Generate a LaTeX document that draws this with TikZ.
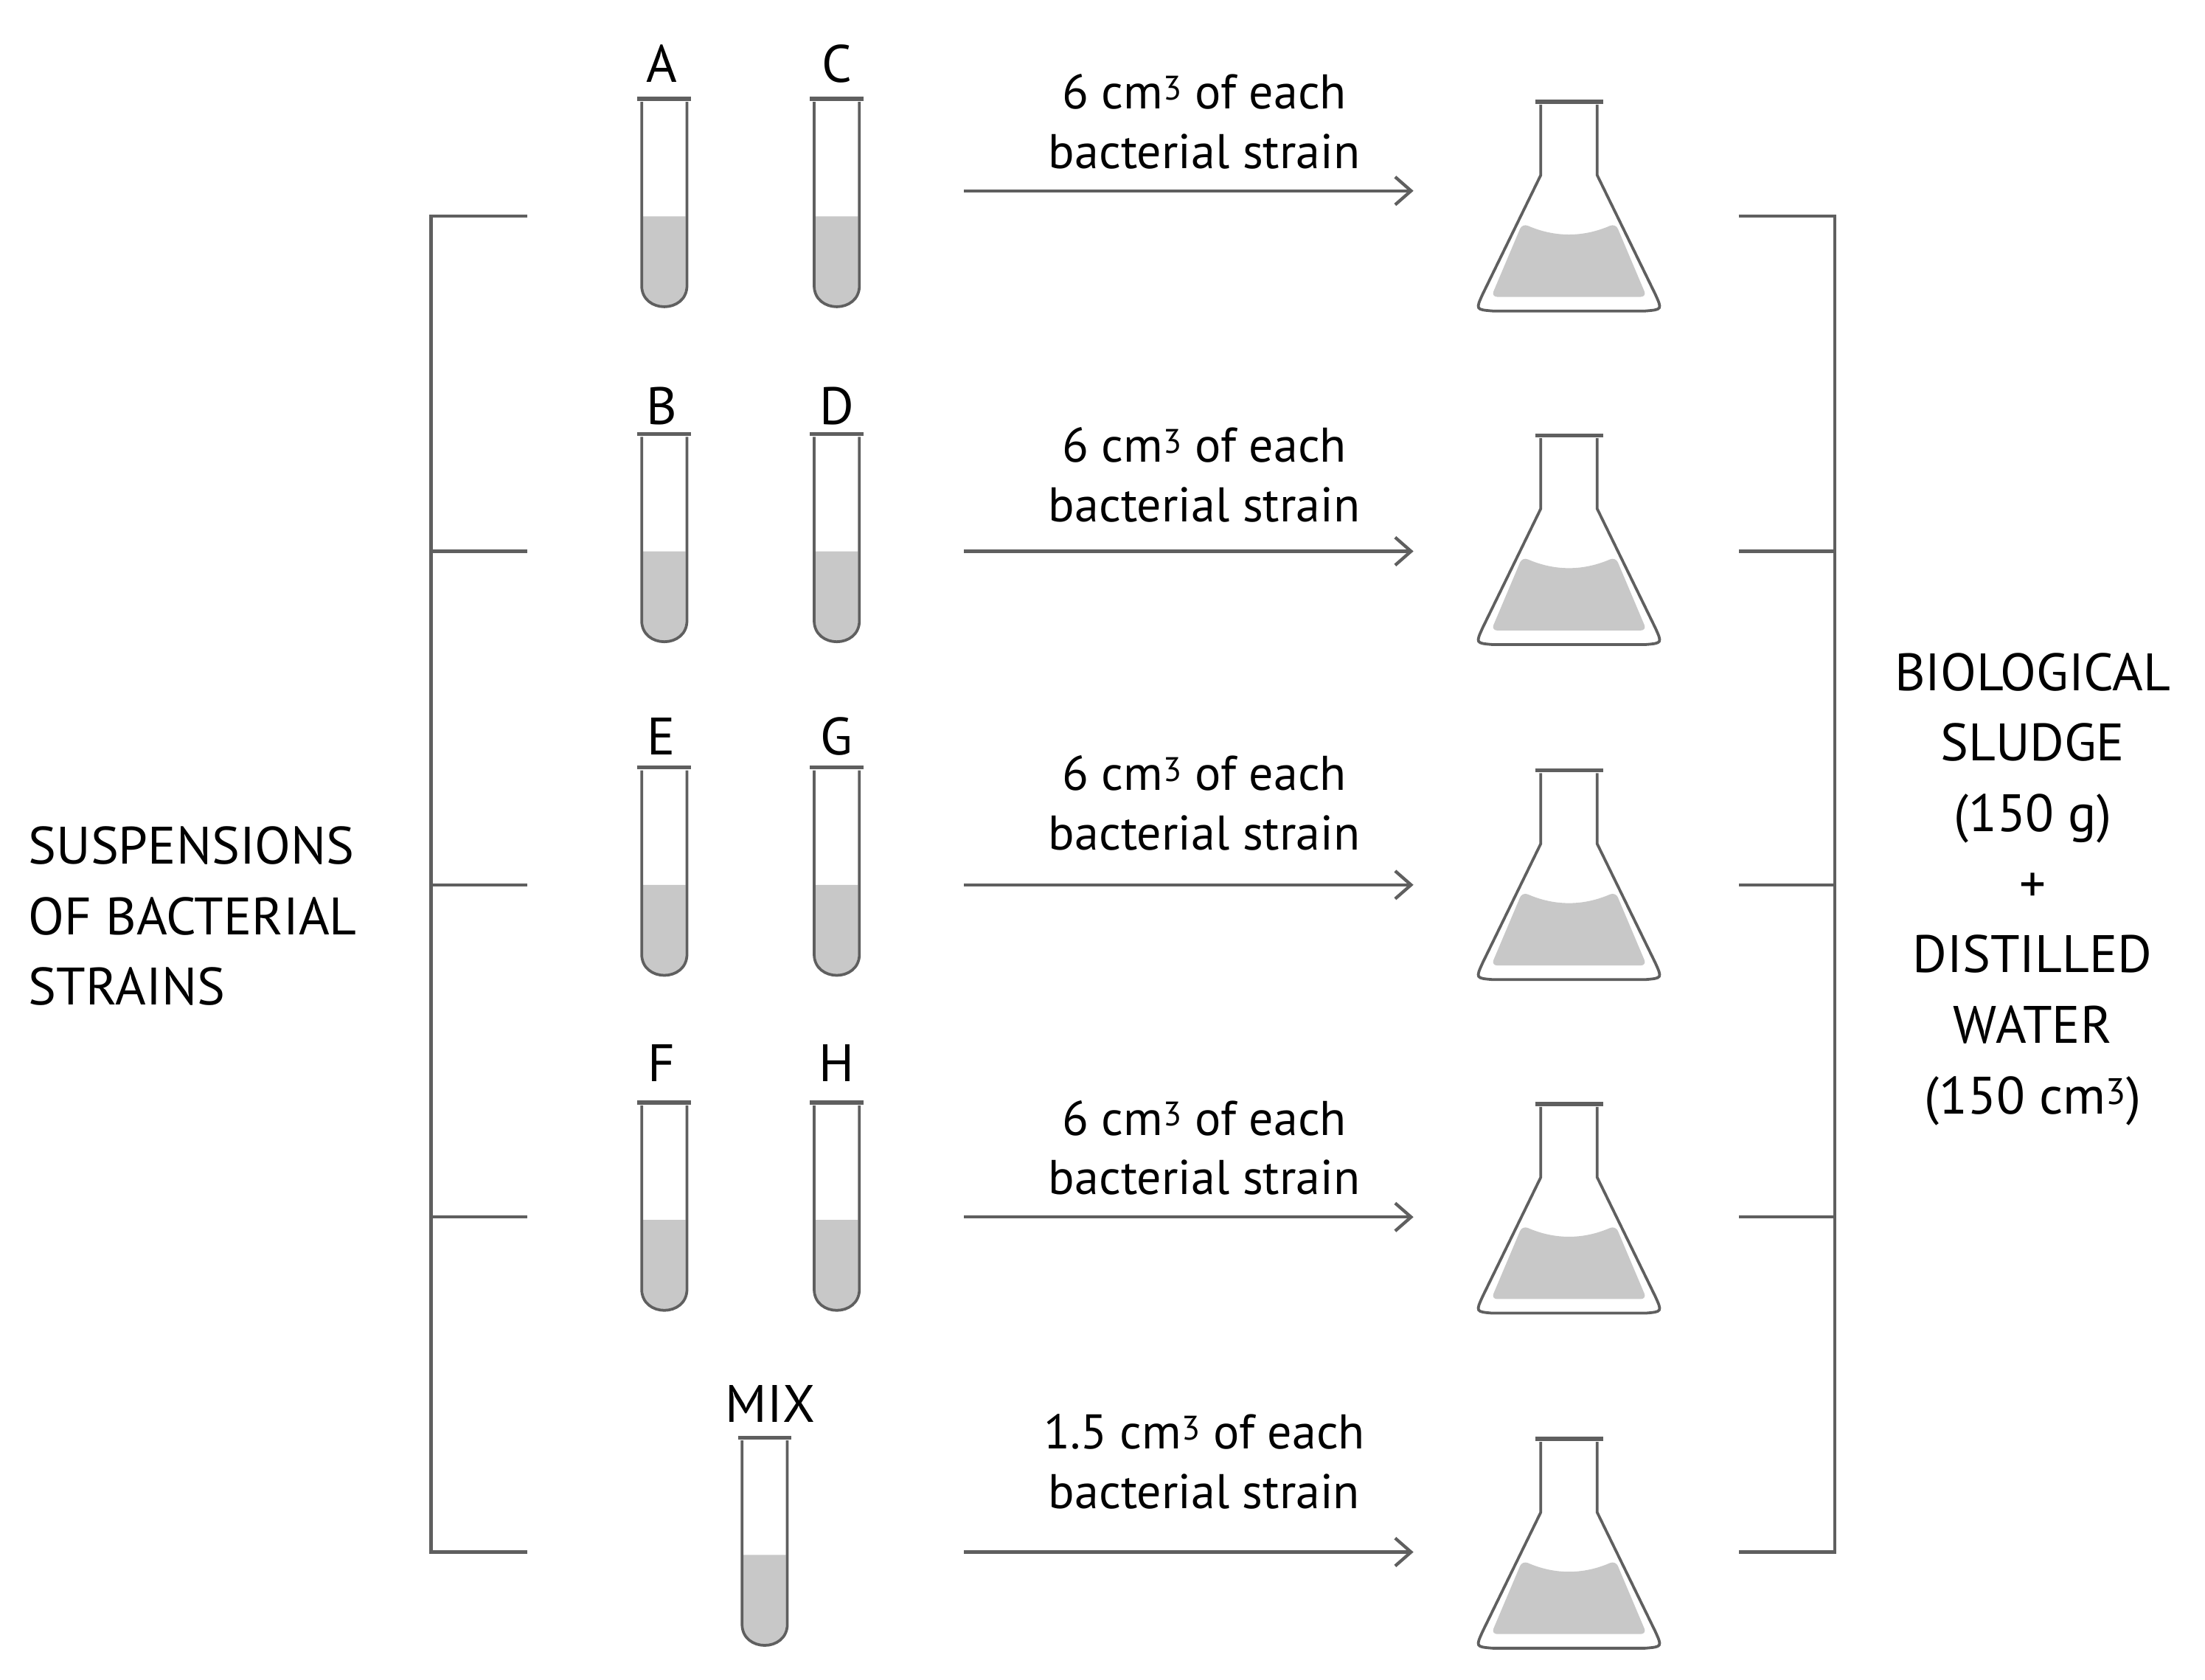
\documentclass[tikz,border=0pt]{standalone}
\usepackage{fontspec}
\setmainfont{PT Sans}
\usetikzlibrary{arrows.meta}
\definecolor{ln}{RGB}{95,95,95}
\definecolor{liq}{RGB}{200,200,200}
\begin{document}
\begin{tikzpicture}[x=0.05cm,y=-0.05cm,
  txt/.style={font=\fontsize{53}{71}\selectfont,text=black,inner sep=0pt,align=center},
  atxt/.style={font=\fontsize{49}{60}\selectfont,text=black,inner sep=0pt,align=center},
  br/.style={draw=ln,line width=3.2},
  arr/.style={draw=ln,line width=3.2,-{Straight Barb[length=16,width=28,line width=3.2]}},
  tube/.pic={
    \fill[liq] (-15,83) -- (-15,132) .. controls (-15,151) and (15,151) .. (15,132) -- (15,83) -- cycle;
    \draw[ln,line width=2.8] (-16,2) -- (-16,132) .. controls (-16,152) and (16,152) .. (16,132) -- (16,2);
    \draw[ln,line width=4] (-19,0) -- (19,0);
  },
  flask/.pic={
    \fill[liq,rounded corners=6] (-33,86) .. controls (-10,96) and (10,96) .. (33,86) -- (55,138) -- (-55,138) -- cycle;
    \draw[ln,line width=2.8] (-20,2) -- (-20,52) -- (-61,136) .. controls (-66,147) .. (-54,148) -- (54,148) .. controls (66,147) .. (61,136) -- (20,52) -- (20,2);
    \draw[ln,line width=4] (-24,0) -- (24,0);
  }]
\useasboundingbox (0,0) rectangle (1560,1188);
% brackets
\draw[br] (373,153) -- (305,153) -- (305,1098) -- (373,1098);
\foreach \yy in {390,626,861}{\draw[br] (305,\yy) -- (373,\yy);}
\draw[br] (1230,153) -- (1298,153) -- (1298,1098) -- (1230,1098);
\foreach \yy in {390,626,861}{\draw[br] (1298,\yy) -- (1230,\yy);}
% side texts
\node[txt,align=left,anchor=west] (susp) at (20,648) {SUSPENSIONS\\OF BACTERIAL\\STRAINS};
\node[txt] (sludge) at (1438,629) {BIOLOGICAL\\SLUDGE\\(150 g)\\+\\DISTILLED\\WATER\\(150 cm\textsuperscript{3})};
% tubes
\foreach \t/\yt/\a/\b in {70/45/A/C,307/287/B/D,543/521/E/G,780/752/F/H}{
  \pic at (470,\t) {tube};
  \pic at (592,\t) {tube};
  \node[txt] (l\a) at (468,\yt) {\a};
  \node[txt] (l\b) at (592,\yt) {\b};
}
\pic at (541,1017) {tube};
\node[txt] (lmix) at (545,993) {MIX};
% flasks
\foreach \t in {72,308,545,781,1018}{\pic at (1110,\t) {flask};}
% arrows
\foreach \yy/\i in {135/1,390/2,626/3,861/4,1098/5}{
  \coordinate (s\i) at (682,\yy);
  \coordinate (e\i) at (1000,\yy);
  \draw[arr] (s\i) -- (e\i);
}
\foreach \yy/\i in {86/1,336/2,568/3,812/4}{
  \node[atxt] (t\i) at (852,\yy) {6 cm\textsuperscript{3} of each\\bacterial strain};
}
\node[atxt] (t5) at (852,1034) {1.5 cm\textsuperscript{3} of each\\bacterial strain};
\end{tikzpicture}
\end{document}
